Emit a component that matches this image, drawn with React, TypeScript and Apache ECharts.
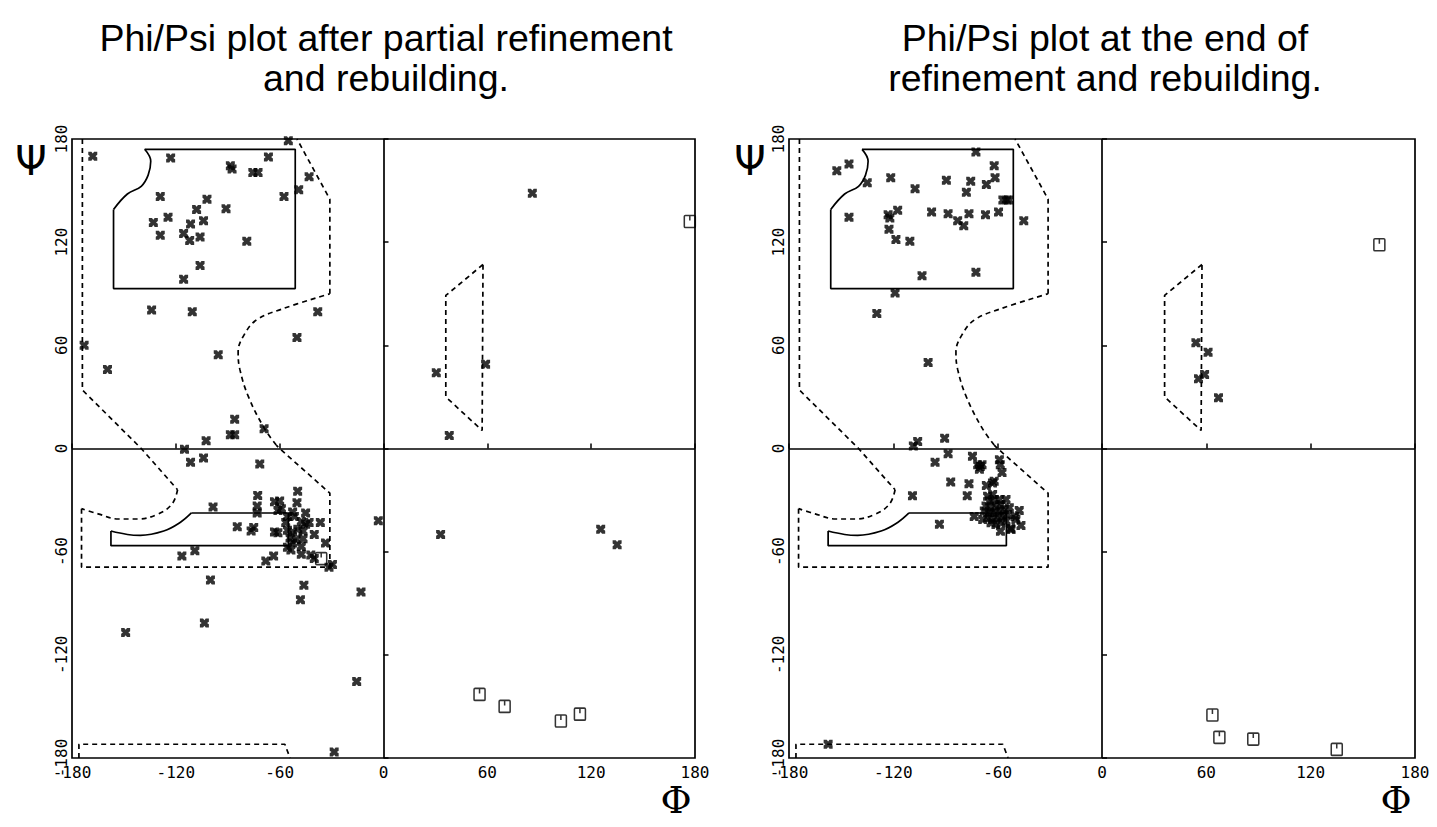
import React, { useEffect, useRef } from "react";
import * as echarts from "echarts";

// ---------- axis ticks ----------
const angleTicks = [-180, -120, -60, 0, 60, 120, 180];

// ---------- titles ----------
const leftTitle = "Phi/Psi plot after partial refinement\nand rebuilding.";
const rightTitle = "Phi/Psi plot at the end of\nrefinement and rebuilding.";

// ---------- allowed-region outlines [phi, psi] (same template on both plots) ----------
const outerEdgeLeft = [[-174, 180], [-174, 34], [-140, 0], [-119, -24]];
const outerLowCurve = [[-119, -24], [-122, -32], [-130, -38], [-142, -41], [-153, -41], [-165, -38], [-174.5, -35]];
const outerLowBox = [[-174.5, -35], [-174.5, -69], [-31, -69], [-31, -26], [-60, 0], [-62, 2]];
const outerRightCurve = [[-62, 2], [-69, 12], [-78, 30], [-83, 46], [-84, 56], [-80, 67], [-73, 75], [-59, 81], [-31, 90]];
const outerTopRight = [[-31, 90], [-31, 145], [-50, 180]];
const bottomRegion = [[-176, -180], [-176, -172], [-57, -172], [-54, -180]];
const leftHandedRegion = [[57.5, 107], [36, 89], [36, 30], [57, 10.5], [57.5, 107]];
const betaCoreBox = [[-138, 174], [-51, 174], [-51, 93], [-156, 93], [-156, 139]];
const betaCoreCurve = [[-138, 174], [-134.5, 167], [-136, 159], [-140, 152.5], [-148, 148], [-156, 139]];
const alphaCoreBox = [[-111, -37.5], [-55, -37.5], [-55, -56.5], [-157.5, -56.5], [-157.5, -48]];
const alphaCoreCurve = [[-157.5, -48], [-148, -50], [-140.5, -50.5], [-127, -48], [-117.5, -43], [-111, -37.5]];

const dashedStraight = [outerEdgeLeft, outerLowBox, outerTopRight, bottomRegion, leftHandedRegion];
const dashedSmooth = [outerLowCurve, outerRightCurve];
const solidStraight = [betaCoreBox, alphaCoreBox];
const solidSmooth = [betaCoreCurve, alphaCoreCurve];

// ---------- left plot: residues (phi, psi) ----------
const leftResidues = [
  [-55, 179], [-168, 170], [-123, 169], [-88.5, 164.5], [-87.5, 162.5], [-66.5, 169.5], [-75.5, 160.5], [-72.5, 160.5],
  [-43, 158], [-49, 150.5], [-57.5, 146.5], [-129, 146.5], [-102, 145], [-108, 139], [-91, 139.5], [-124.5, 134.5],
  [-104, 132.5], [-133, 131.5], [-111.5, 130.5], [-129, 124], [-115.5, 125], [-112, 121], [-106, 123], [-79, 120.5],
  [-106, 106.5], [-115.5, 98.5], [-134, 80.5], [-110.5, 79.5], [-38, 79.5], [-50, 64.5], [-173, 60], [-95.5, 54.5],
  [-159.5, 46], [-86, 17], [-69, 11.5], [-88.5, 8], [-86, 8], [-102.5, 4.5], [-115, -0.5],
  [-111.5, -8], [-104, -5.5], [-71.5, -9], [-98.5, -34], [-84.5, -45.5],
  [-72.7, -27.3], [-49.6, -24.8], [-73, -33.5], [-73, -37.5], [-63, -31], [-60, -30.5], [-59, -35], [-61, -36],
  [-50, -31.5], [-52.5, -37], [-51.5, -39.5], [-45, -37.5], [-55.5, -39.5], [-56.5, -43], [-47.5, -42.5], [-45, -44],
  [-43, -43], [-36.5, -43], [-76.5, -48], [-75, -46], [-63, -48.5], [-61, -49], [-55.5, -47.5], [-52.5, -48.5],
  [-49.5, -47], [-46.5, -48], [-54, -52], [-50.5, -53], [-46.5, -52.5], [-40, -50], [-52.5, -55], [-55.5, -57.5],
  [-53.5, -59], [-47.5, -57], [-33.5, -55], [-63.5, -62.5], [-68, -65.5], [-47.5, -61.5], [-42, -62], [-40, -64],
  [-31.5, -69], [-29.5, -67.5],
  [-116.5, -62.5], [-109, -59.5], [-100, -76.5], [-46, -79.5], [-48, -88], [-13, -83.5], [-3, -42],
  [-103.5, -101.5], [-149, -107], [-15.5, -135.5], [-28.5, -176.5],
  [86, 148.5], [30.5, 44], [59, 49], [38, 7.5], [33, -50], [125.5, -47], [135, -56],
];
const leftGlycines = [[177, 132], [-36, -64], [55.5, -143], [70, -150], [102.5, -158.5], [113.5, -154.5]];

// ---------- right plot: residues (phi, psi) ----------
const rightResidues = [
  [-152.5, 161.5], [-145.5, 165.5], [-135, 154.5], [-121.5, 157.5], [-107.5, 151], [-89.5, 156], [-75.5, 155.5],
  [-72.5, 172.5], [-62, 164.5], [-61.5, 157.5], [-66.5, 153.5], [-78, 149], [-55, 144.5], [-53.5, 144.5], [-57, 144.5],
  [-45, 132.5], [-59.5, 137.5], [-67, 136], [-76.5, 136.5], [-83, 132.5], [-79.5, 129.5], [-88.5, 136.5], [-98, 137.5],
  [-145.5, 134.5], [-123, 136], [-122, 134], [-117.5, 138.5], [-122.5, 127.5], [-118.5, 121.5], [-110.5, 120.5],
  [-103.5, 100.5], [-72.5, 102.5], [-119, 90.5], [-129.5, 78.5], [-100, 50], [-106, 4], [-108.5, 1.5], [-90.5, 6],
  [-88.5, -3], [-96, -8], [-74.5, -4.5], [-71.5, -9.5], [-70, -10.5], [-70.5, -12], [-69, -9.5], [-59, -6.5],
  [-58.5, -9.5], [-57.5, -14], [-87, -19.5], [-76.5, -20.5], [-66.5, -21.5], [-63, -20], [-62, -19], [-77.5, -27.5],
  [-109, -27.5], [-73.5, -39.5], [-93.5, -44],
  [-65.8, -27.7], [-62.9, -26.7], [-64.8, -30.6], [-61.9, -29.7], [-59, -29.7], [-66.7, -33.5], [-63.8, -34.5],
  [-61, -33.5], [-58.1, -32.6], [-55.2, -29.7], [-67.7, -36.4], [-64.8, -37.4], [-61.9, -37.4], [-59, -36.4],
  [-56.2, -35.5], [-65.8, -40.3], [-62.9, -41.3], [-60, -40.3], [-57.1, -39.3], [-54.3, -38.4], [-63.8, -43.2],
  [-61, -44.2], [-58.1, -43.2], [-55.2, -42.2], [-53.3, -34.5], [-47.6, -36], [-46.6, -44.8], [-52.3, -47.1],
  [-58.4, -48.1], [-68.6, -41.3], [-49.5, -41.3], [-50, -39.5], [-52.5, -46.5],
  [-157.5, -172],
  [54, 61.5], [61, 56], [59, 43], [55.5, 40.5], [67, 29.5],
];
const rightGlycines = [[159.5, 118.5], [63.5, -155], [67.5, -168], [87, -169], [135, -175]];

// ---------- symbols ----------
const crossSymbol = "path://M0,0L3.5,0L5,2L6.5,0L10,0L10,3.5L8,5L10,6.5L10,10L6.5,10L5,8L3.5,10L0,10L0,6.5L2,5L0,3.5Z";
const glySymbol = "path://M1,0L9,0Q10,0 10,1L10,11Q10,12 9,12L1,12Q0,12 0,11L0,1Q0,0 1,0ZM5,0L5,5";

const LABEL_FONT = "DejaVu Sans Mono";

function axisPair(gridIndex: number) {
  const common = {
    gridIndex,
    type: "value" as const,
    min: angleTicks[0],
    max: angleTicks[angleTicks.length - 1],
    interval: angleTicks[1] - angleTicks[0],
    splitLine: { show: false },
    axisLine: { show: false },
    axisTick: { show: true, inside: true, length: 5, lineStyle: { color: "#000", width: 1.5 } },
  };
  return {
    x: {
      ...common,
      axisLabel: { color: "#000", fontFamily: LABEL_FONT, fontSize: 16, margin: 6 },
    },
    y: {
      ...common,
      axisLabel: { color: "#000", fontFamily: LABEL_FONT, fontSize: 16, margin: 3, rotate: 90 },
    },
  };
}

function plotSeries(idx: number, residues: number[][], glycines: number[][]) {
  const s: any[] = [];
  const lineBase = {
    type: "line",
    xAxisIndex: idx,
    yAxisIndex: idx,
    symbol: "none",
    silent: true,
    z: 2,
  };
  dashedStraight.forEach((d) =>
    s.push({ ...lineBase, data: d, lineStyle: { color: "#000", width: 1.7, type: [5, 4] } })
  );
  dashedSmooth.forEach((d) =>
    s.push({ ...lineBase, data: d, smooth: 0.4, lineStyle: { color: "#000", width: 1.7, type: [5, 4] } })
  );
  solidStraight.forEach((d) =>
    s.push({ ...lineBase, data: d, lineStyle: { color: "#000", width: 1.7, type: "solid" } })
  );
  solidSmooth.forEach((d) =>
    s.push({ ...lineBase, data: d, smooth: 0.4, lineStyle: { color: "#000", width: 1.7, type: "solid" } })
  );
  s.push({
    type: "scatter",
    xAxisIndex: idx,
    yAxisIndex: idx,
    data: residues,
    symbol: crossSymbol,
    symbolSize: 9,
    clip: false,
    itemStyle: { color: "#000" },
    z: 4,
    markLine: {
      silent: true,
      symbol: ["none", "none"],
      label: { show: false },
      lineStyle: { color: "#000", type: "solid", width: 1.7 },
      data: [{ xAxis: 0 }, { yAxis: 0 }],
    },
  });
  s.push({
    type: "scatter",
    xAxisIndex: idx,
    yAxisIndex: idx,
    data: glycines,
    symbol: glySymbol,
    symbolSize: [11, 12],
    clip: false,
    itemStyle: { color: "rgba(0,0,0,0)", borderColor: "#000", borderWidth: 1.6 },
    z: 4,
  });
  return s;
}

export default function App() {
  const ref = useRef<HTMLDivElement>(null);
  useEffect(() => {
    if (!ref.current) return;
    const chart = echarts.init(ref.current, null, { renderer: "svg" });
    const a0 = axisPair(0);
    const a1 = axisPair(1);
    const gridStyle = { show: true, borderColor: "#000", borderWidth: 1.7, backgroundColor: "transparent" };
    const titleFont = "37.5px 'Liberation Sans', Arial, sans-serif";
    const greekStyle = (t: string, size: number, family: string) => ({
      text: t,
      font: `${size}px ${family}`,
      fill: "#000",
      align: "center",
      verticalAlign: "middle",
    });
    chart.setOption({
      animation: false,
      backgroundColor: "#fff",
      grid: [
        { left: 72, top: 139, width: 623, height: 619, ...gridStyle },
        { left: 789, top: 139, width: 626, height: 619, ...gridStyle },
      ],
      xAxis: [a0.x, a1.x],
      yAxis: [a0.y, a1.y],
      series: [...plotSeries(0, leftResidues, leftGlycines), ...plotSeries(1, rightResidues, rightGlycines)],
      graphic: [
        {
          type: "text",
          x: 386,
          y: 58,
          style: { text: leftTitle, font: titleFont, fill: "#000", align: "center", verticalAlign: "middle", lineHeight: 40 },
        },
        {
          type: "text",
          x: 1105,
          y: 58,
          style: { text: rightTitle, font: titleFont, fill: "#000", align: "center", verticalAlign: "middle", lineHeight: 40 },
        },
        { type: "text", x: 31, y: 161, style: greekStyle("Ψ", 40, "'DejaVu Sans'") },
        { type: "text", x: 750, y: 161, style: greekStyle("Ψ", 40, "'DejaVu Sans'") },
        { type: "text", x: 676, y: 800, style: greekStyle("Φ", 38, "'DejaVu Serif'") },
        { type: "text", x: 1396, y: 800, style: greekStyle("Φ", 38, "'DejaVu Serif'") },
      ],
    });
    return () => chart.dispose();
  }, []);
  return (
    <div
      ref={ref}
      style={{ position: "absolute", left: 0, top: 0, width: 1437, height: 827 }}
    />
  );
}
